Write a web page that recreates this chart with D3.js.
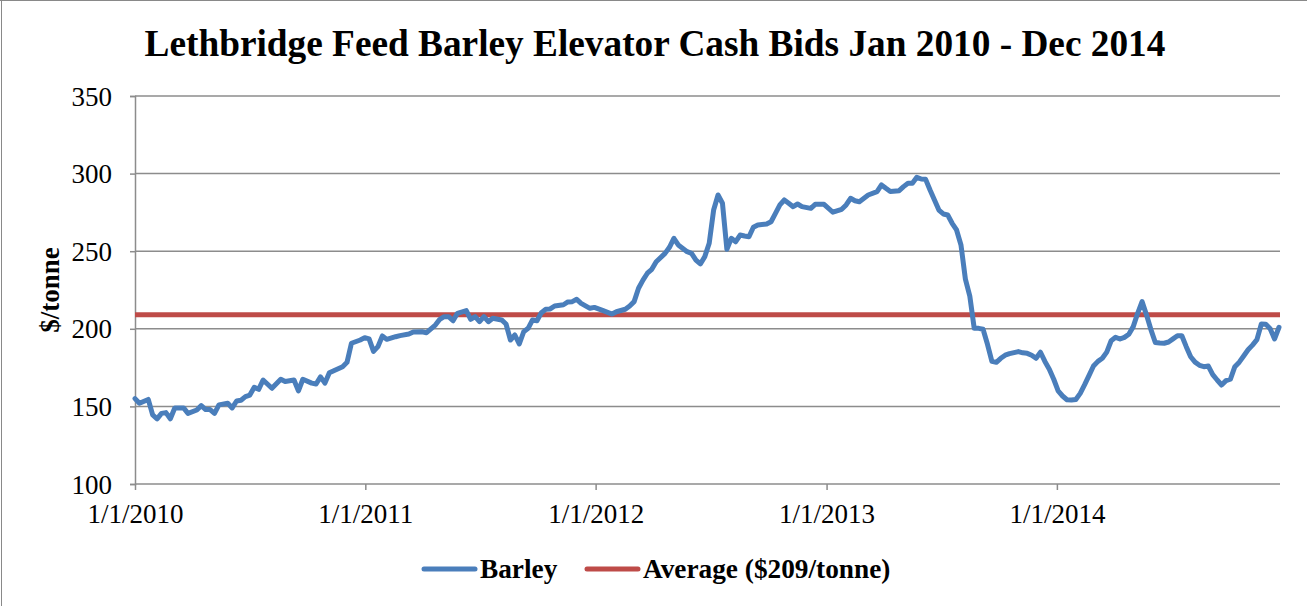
<!DOCTYPE html>
<html>
<head>
<meta charset="utf-8">
<script src="https://cdn.jsdelivr.net/npm/d3@7"></script>
<style>
  body { margin: 0; background: #fff; }
  svg text { font-family: "Liberation Serif", "Times New Roman", serif; fill: #000; }
</style>
</head>
<body>
<div id="chart"></div>
<script>
// weekly cash bids ($/tonne)
var dates = [
  "2010-01-01","2010-01-08","2010-01-22","2010-01-29","2010-02-05","2010-02-12","2010-02-19","2010-02-26",
  "2010-03-05","2010-03-19","2010-03-26","2010-04-09","2010-04-16","2010-04-23","2010-04-30","2010-05-07",
  "2010-05-14","2010-05-28","2010-06-04","2010-06-11","2010-06-18","2010-06-25","2010-07-02","2010-07-09",
  "2010-07-16","2010-07-23","2010-08-06","2010-08-20","2010-08-27","2010-09-10","2010-09-17","2010-09-24",
  "2010-10-08","2010-10-15","2010-10-22","2010-10-29","2010-11-05","2010-11-12","2010-11-26","2010-12-03",
  "2010-12-10","2010-12-24","2010-12-31",
  "2011-01-07","2011-01-14","2011-01-21","2011-01-28","2011-02-04","2011-02-18","2011-02-25","2011-03-11",
  "2011-03-18","2011-04-01","2011-04-08","2011-04-22","2011-04-29","2011-05-06","2011-05-13","2011-05-20",
  "2011-05-27","2011-06-10","2011-06-17","2011-06-24","2011-07-01","2011-07-08","2011-07-15","2011-07-22",
  "2011-08-05","2011-08-12","2011-08-19","2011-08-26","2011-09-02","2011-09-09","2011-09-16","2011-09-23",
  "2011-09-30","2011-10-07","2011-10-14","2011-10-21","2011-10-28","2011-11-11","2011-11-18","2011-11-25",
  "2011-12-02","2011-12-09","2011-12-23","2011-12-30",
  "2012-01-13","2012-01-27","2012-02-03","2012-02-17","2012-02-24","2012-03-02","2012-03-09","2012-03-16",
  "2012-03-23","2012-03-30","2012-04-06","2012-04-20","2012-04-27","2012-05-04","2012-05-11","2012-05-25",
  "2012-06-01","2012-06-08","2012-06-15","2012-06-22","2012-06-29","2012-07-06","2012-07-13","2012-07-20",
  "2012-07-27","2012-08-03","2012-08-10","2012-08-17","2012-08-24","2012-08-31","2012-09-07","2012-09-14",
  "2012-09-28","2012-10-05","2012-10-12","2012-10-19","2012-10-26","2012-11-02","2012-11-09","2012-11-16",
  "2012-11-23","2012-12-07","2012-12-14","2012-12-28",
  "2013-01-11","2013-01-25","2013-02-01","2013-02-08","2013-02-15","2013-02-22","2013-03-08","2013-03-22",
  "2013-03-29","2013-04-05","2013-04-12","2013-04-26","2013-05-03","2013-05-10","2013-05-17","2013-05-24",
  "2013-05-31","2013-06-07","2013-06-14","2013-06-21","2013-06-28","2013-07-05","2013-07-12","2013-07-19",
  "2013-07-26","2013-08-02","2013-08-09","2013-08-16","2013-08-23","2013-08-30","2013-09-06","2013-09-13",
  "2013-09-20","2013-09-27","2013-10-04","2013-10-11","2013-10-18","2013-11-01","2013-11-08","2013-11-15",
  "2013-11-22","2013-11-29","2013-12-06","2013-12-13","2013-12-20","2013-12-27",
  "2014-01-03","2014-01-10","2014-01-17","2014-01-24","2014-01-31","2014-02-07","2014-02-14","2014-02-21",
  "2014-02-28","2014-03-07","2014-03-14","2014-03-21","2014-03-28","2014-04-04","2014-04-11","2014-04-18",
  "2014-04-25","2014-05-02","2014-05-09","2014-05-16","2014-05-23","2014-05-30","2014-06-06","2014-06-13",
  "2014-06-20","2014-06-27","2014-07-04","2014-07-11","2014-07-18","2014-07-25","2014-08-01","2014-08-08",
  "2014-08-15","2014-08-22","2014-08-29","2014-09-05","2014-09-12","2014-09-19","2014-09-26","2014-10-03",
  "2014-10-10","2014-10-17","2014-10-24","2014-10-31","2014-11-07","2014-11-14","2014-11-21","2014-11-28",
  "2014-12-05","2014-12-12","2014-12-19"
];
var barley = [
  155,152,154.5,144.5,142,145.5,146,142,
  149,149,145.5,147.7,150.5,148,148,145.5,
  151,152,149,153.5,154,156.3,157.3,162.3,
  161,167,161.7,167.5,166,167,160,167.5,
  165,164.4,169,165,171.7,173,175.6,178.4,
  190.7,192.8,194.3,
  193.5,185.5,188.5,195.4,193.2,194.9,195.6,196.6,
  197.9,198.1,197.5,202.4,206.1,207.8,207.8,205.2,
  210,211.7,206.1,207.8,204.6,207.8,204.6,206.8,
  205.7,203.1,192.8,196,190.2,198.1,200.3,205.7,
  205.2,210.4,212.6,212.8,214.7,215.5,217.3,217.5,
  219,216.4,213.2,213.8,
  211.7,209.5,211,212.6,214.7,217.5,226.1,231.4,
  235.8,238.3,243.2,248.6,252.5,258.3,254,249.7,
  248.6,244.3,241.8,246.5,255.1,276.5,286.2,280.9,
  251.2,258.3,256.1,260.4,259.8,259.3,265.4,266.9,
  267.5,269,274.4,279.8,283,280.9,278.7,280.4,
  278.7,277.6,280.2,280.2,
  275.1,277,279.8,284.1,282.5,281.9,286.2,288.4,
  292.7,290.5,288.4,289,291.6,293.8,293.8,297.6,
  296.5,296.3,289.4,283,276.5,274,273.3,268,
  263.7,254,232,221,200.3,200.3,199.7,190,
  179,178.4,181,183,184,185.3,184.5,184.2,
  183,181,184.9,179,174,167.5,
  160,156.7,154.3,154.1,154.5,158.4,164,170,
  176,179,181,185,192.3,194.5,193.4,194.5,
  196.5,201.4,210,217.5,209,199.5,191.2,190.8,
  190.7,191.5,193.5,195.5,195.5,188.5,182,178.5,
  176.5,175.6,176,170.5,167,163.8,166.6,167.5,
  175.6,178.5,182.5,186.5,189.5,193,203.1,203,
  200,193.5,201
];
var average = 209;
var yTicks = [100, 150, 200, 250, 300, 350];
var xTicks = ["2010-01-01", "2011-01-01", "2012-01-01", "2013-01-01", "2014-01-01"];
var seriesNames = ["Barley", "Average ($209/tonne)"];
var seriesColors = ["#4a7ebb", "#be4b48"];

var width = 1307, height = 606;
var parse = d3.timeParse("%Y-%m-%d");
var fmt = d3.timeFormat("%-m/%-d/%Y");

var svg = d3.select("#chart").append("svg").attr("width", width).attr("height", height);

// outer frame (only top and left edge show in the picture)
svg.append("line").attr("x1", 0).attr("x2", width).attr("y1", 0.5).attr("y2", 0.5).attr("stroke", "#898989");
svg.append("line").attr("x1", 1.5).attr("x2", 1.5).attr("y1", 0).attr("y2", height).attr("stroke", "#898989");

var x = d3.scaleTime().domain([parse(dates[0]), parse(dates[dates.length - 1])]).range([135, 1279]);
var y = d3.scaleLinear().domain([100, 350]).range([484, 96]);

// gridlines
svg.append("g").selectAll("line").data(yTicks.slice(1)).enter().append("line")
  .attr("x1", 135).attr("x2", 1280)
  .attr("y1", function (d) { return y(d); }).attr("y2", function (d) { return y(d); })
  .attr("stroke", "#8c8c8c").attr("stroke-width", 1.5);

// y axis
var yAxis = svg.append("g").attr("transform", "translate(135,0)")
  .call(d3.axisLeft(y).tickValues(yTicks).tickSize(5).tickPadding(18));
yAxis.select(".domain").attr("stroke", "#8c8c8c").attr("stroke-width", 1.5);
yAxis.selectAll(".tick line").attr("stroke", "#8c8c8c").attr("stroke-width", 1.5);
yAxis.selectAll("text").style("font-size", "27px").attr("dy", "0.34em");

// x axis
var xAxis = svg.append("g").attr("transform", "translate(0,484)")
  .call(d3.axisBottom(x).tickValues(xTicks.map(parse)).tickFormat(fmt).tickSize(6).tickPadding(14).tickSizeOuter(0));
xAxis.select(".domain").attr("stroke", "#8c8c8c").attr("stroke-width", 1.5).attr("d", "M135,0H1280");
xAxis.selectAll(".tick line").attr("stroke", "#8c8c8c").attr("stroke-width", 1.5);
xAxis.selectAll("text").style("font-size", "27px");

// average line
svg.append("line")
  .attr("x1", 135).attr("x2", 1280)
  .attr("y1", y(average)).attr("y2", y(average))
  .attr("stroke", seriesColors[1]).attr("stroke-width", 5);

// barley line
var line = d3.line()
  .x(function (d, i) { return x(parse(dates[i])); })
  .y(function (d) { return y(d); });
svg.append("path").datum(barley)
  .attr("d", line)
  .attr("fill", "none")
  .attr("stroke", seriesColors[0])
  .attr("stroke-width", 5)
  .attr("stroke-linejoin", "round")
  .attr("stroke-linecap", "round");

// title
svg.append("text").text("Lethbridge Feed Barley Elevator Cash Bids Jan 2010 - Dec 2014")
  .attr("x", 655).attr("y", 56).attr("text-anchor", "middle")
  .style("font-size", "37.3px").style("font-weight", "bold");

// y label
svg.append("text").text("$/tonne")
  .attr("transform", "translate(59,290) rotate(-90)").attr("text-anchor", "middle")
  .style("font-size", "27px").style("font-weight", "bold");

// legend
var legendX = [424, 587];
var legendTextX = [480, 643];
for (var i = 0; i < seriesNames.length; i++) {
  svg.append("line")
    .attr("x1", legendX[i]).attr("x2", legendX[i] + 51)
    .attr("y1", 569).attr("y2", 569)
    .attr("stroke", seriesColors[i]).attr("stroke-width", 5).attr("stroke-linecap", "round");
  svg.append("text").text(seriesNames[i])
    .attr("x", legendTextX[i]).attr("y", 578)
    .style("font-size", "27.3px").style("font-weight", "bold");
}
</script>
</body>
</html>
